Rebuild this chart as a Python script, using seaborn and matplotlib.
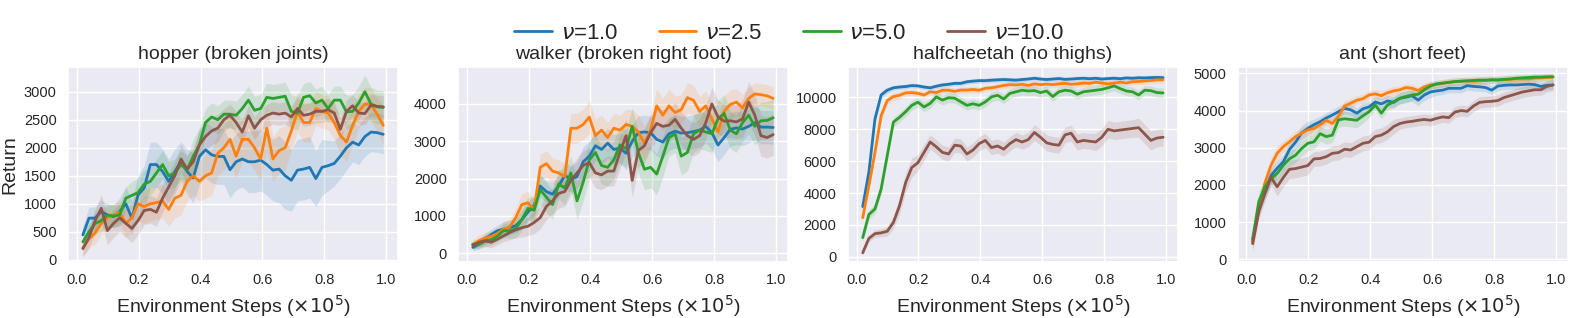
import numpy as np
import pandas as pd
import matplotlib
matplotlib.use("Agg")
import matplotlib.pyplot as plt
from matplotlib.ticker import MultipleLocator
import seaborn as sns

# environment steps (x1e5), 50 evaluation points
steps = np.linspace(0.02, 0.99, 50)

nus = ["1.0", "2.5", "5.0", "10.0"]
colors = ["#1f77b4", "#ff7f0e", "#2ca02c", "#8c564b"]
titles = ["hopper (broken joints)", "walker (broken right foot)", "halfcheetah (no thighs)", "ant (short feet)"]

# ---------------- hopper ----------------
hopper_nu1 = [446, 744, 744, 863, 800, 770, 863, 1000, 744, 1160, 1280, 1700, 1700, 1577, 1400, 1577, 1755,
              1577, 1460, 1845, 1964, 1874, 1845, 1845, 1607, 1750, 1800, 1750, 1750, 1780, 1700, 1600, 1620,
              1500, 1420, 1600, 1620, 1650, 1450, 1650, 1680, 1720, 1850, 2000, 2100, 2050, 2200, 2280, 2270, 2240]
hopper_nu1_sd = [150, 200, 200, 200, 200, 200, 250, 300, 300, 350, 400, 400, 400, 400, 400, 400, 350, 400,
                 450, 500, 500, 500, 500, 500, 500, 500, 500, 550, 550, 550, 550, 550, 600, 600, 550, 550,
                 550, 550, 500, 500, 450, 400, 400, 400, 350, 350, 350, 350, 350, 350]
hopper_nu2 = [210, 380, 480, 650, 750, 800, 850, 650, 750, 1000, 950, 1000, 1020, 1050, 900, 1100, 1150, 1400,
              1500, 1400, 1500, 1550, 1900, 2000, 2150, 1850, 2150, 2150, 2000, 1800, 2350, 1800, 1950, 2000,
              2300, 2650, 2450, 2450, 2700, 2650, 2620, 2450, 2220, 2100, 2400, 2650, 2780, 2770, 2600, 2400]
hopper_nu2_sd = [150, 150, 200, 200, 200, 200, 200, 250, 250, 300, 300, 300, 300, 300, 300, 350, 350, 350,
                 350, 350, 400, 400, 400, 400, 400, 400, 400, 400, 400, 400, 400, 400, 400, 400, 350, 350,
                 350, 350, 300, 300, 300, 300, 350, 350, 350, 300, 300, 300, 300, 350]
hopper_nu5 = [320, 500, 650, 700, 800, 780, 800, 1100, 1150, 1200, 1350, 1400, 1550, 1700, 1500, 1550, 1700,
              1600, 1850, 2050, 2450, 2550, 2500, 2600, 2600, 2580, 2700, 2850, 2670, 2700, 2900, 2880, 2900,
              2920, 2650, 2620, 2900, 2930, 2800, 2850, 2700, 2850, 2850, 2640, 2650, 2800, 3000, 2780, 2730, 2720]
hopper_nu5_sd = [150, 150, 200, 200, 200, 200, 200, 200, 250, 250, 250, 250, 250, 250, 250, 250, 250, 250,
                 300, 300, 250, 250, 250, 250, 250, 250, 250, 250, 250, 250, 250, 250, 250, 250, 300, 300,
                 250, 250, 250, 250, 250, 250, 250, 300, 300, 300, 300, 300, 300, 300]
hopper_nu10 = [200, 400, 700, 920, 520, 650, 750, 650, 560, 700, 880, 900, 850, 1100, 1300, 1500, 1800, 1620,
               1750, 2050, 2200, 2300, 2350, 2500, 2580, 2450, 2280, 2570, 2350, 2500, 2580, 2620, 2600, 2620,
               2550, 2700, 2580, 2600, 2650, 2650, 2680, 2620, 2330, 2650, 2750, 2620, 2610, 2760, 2740, 2730]
hopper_nu10_sd = [150, 200, 200, 250, 250, 250, 250, 250, 250, 250, 250, 250, 250, 250, 250, 250, 250, 250,
                  250, 250, 250, 250, 250, 200, 200, 200, 200, 200, 200, 200, 200, 200, 200, 200, 200, 200,
                  200, 200, 200, 200, 200, 200, 200, 200, 200, 200, 200, 200, 200, 200]

# ---------------- walker ----------------
walker_nu1 = [150, 240, 380, 500, 600, 640, 690, 730, 900, 1100, 1280, 1800, 1650, 1580, 1800, 2080, 1980, 2050,
              2450, 2600, 2880, 2780, 2950, 2780, 2820, 2680, 3000, 3230, 3250, 3230, 3050, 2980, 3200, 3270,
              3220, 3230, 3260, 3300, 3400, 3230, 2900, 3100, 3320, 3360, 3330, 3400, 3500, 3380, 3380, 3370]
walker_nu1_sd = [100, 120, 150, 150, 150, 200, 200, 200, 250, 250, 300, 300, 300, 300, 300, 350, 350, 400,
                 400, 400, 400, 400, 400, 400, 400, 450, 450, 450, 450, 450, 450, 450, 450, 450, 450, 450,
                 450, 450, 450, 450, 450, 450, 450, 450, 450, 450, 450, 450, 450, 450]
walker_nu2 = [230, 330, 400, 450, 520, 640, 700, 950, 1300, 1350, 1150, 2300, 2400, 2200, 2150, 2050, 3350, 3350,
              3450, 3650, 3150, 3300, 3100, 3350, 3300, 3450, 3400, 3250, 2950, 3300, 3950, 3700, 3950, 3770,
              3850, 4170, 4100, 3800, 3950, 3600, 3250, 3800, 3990, 4050, 3900, 4150, 4270, 4250, 4220, 4150]
walker_nu2_sd = [120, 150, 150, 150, 150, 200, 200, 250, 300, 300, 300, 350, 350, 350, 350, 350, 400, 400,
                 400, 450, 450, 400, 400, 400, 400, 400, 450, 450, 450, 450, 450, 450, 450, 450, 400, 400,
                 400, 400, 400, 400, 400, 400, 400, 350, 350, 300, 300, 300, 300, 300]
walker_nu5 = [240, 230, 320, 360, 450, 600, 600, 650, 900, 1200, 1150, 1700, 1500, 1300, 1850, 1750, 2150, 1400,
              1900, 2500, 2700, 2350, 2300, 2500, 2900, 2800, 3400, 2700, 2250, 2300, 2120, 2600, 3100, 3200,
              2600, 2700, 3200, 3300, 3250, 3200, 3600, 3750, 3300, 3200, 3500, 3700, 3400, 3550, 3560, 3630]
walker_nu5_sd = [100, 120, 150, 150, 150, 200, 200, 250, 300, 300, 350, 400, 400, 400, 400, 450, 450, 500,
                 500, 500, 500, 500, 500, 500, 500, 500, 500, 550, 550, 550, 550, 550, 500, 500, 500, 500,
                 500, 500, 500, 500, 500, 500, 500, 500, 500, 500, 500, 500, 500, 500]
walker_nu10 = [200, 290, 330, 290, 370, 460, 550, 620, 680, 720, 820, 950, 1250, 1400, 1600, 1650, 1950, 2150,
               2350, 2430, 2150, 2100, 2200, 2200, 2700, 3150, 1950, 2750, 2880, 3230, 3480, 3400, 3430, 3590,
               3350, 3150, 3050, 3150, 3500, 4000, 3650, 3540, 3550, 3520, 3600, 4050, 3700, 3150, 3100, 3180]
walker_nu10_sd = [100, 120, 150, 150, 150, 150, 200, 200, 250, 250, 300, 300, 350, 350, 400, 400, 400, 400,
                  400, 400, 400, 400, 400, 400, 450, 450, 450, 450, 450, 450, 450, 450, 450, 450, 450, 450,
                  450, 450, 450, 450, 450, 450, 450, 450, 500, 550, 550, 550, 550, 550]

# ---------------- halfcheetah ----------------
cheetah_nu1 = [3150, 5300, 8650, 10150, 10450, 10600, 10650, 10680, 10740, 10720, 10650, 10600, 10700, 10780,
               10820, 10880, 10880, 10980, 11020, 11050, 11050, 11080, 11100, 11120, 11100, 11080, 11120, 11150,
               11200, 11150, 11120, 11150, 11180, 11130, 11150, 11180, 11200, 11170, 11200, 11150, 11180, 11200,
               11170, 11220, 11200, 11230, 11220, 11240, 11250, 11240]
cheetah_nu1_sd = [250, 300, 300, 250, 200, 150, 150, 150, 150, 150, 150, 150, 150, 150, 150, 150, 150, 150,
                  150, 150, 150, 150, 150, 150, 150, 150, 150, 150, 150, 150, 150, 150, 150, 150, 150, 150,
                  150, 150, 150, 150, 150, 150, 150, 150, 150, 150, 150, 150, 150, 150]
cheetah_nu2 = [2450, 4450, 6550, 8850, 9800, 10050, 10130, 10280, 10300, 10250, 10150, 10350, 10300, 10450,
               10450, 10380, 10460, 10460, 10500, 10450, 10570, 10600, 10670, 10750, 10800, 10780, 10820, 10750,
               10850, 10800, 10830, 10800, 10850, 10880, 10820, 10850, 10900, 10880, 10950, 10900, 10850, 10900,
               10950, 10900, 10980, 11000, 11030, 11060, 11100, 11100]
cheetah_nu2_sd = [250, 300, 300, 300, 250, 250, 250, 200, 200, 200, 200, 200, 200, 200, 200, 200, 200, 200,
                  200, 200, 200, 200, 200, 200, 200, 200, 200, 200, 200, 200, 200, 200, 200, 200, 200, 200,
                  200, 200, 200, 200, 200, 200, 200, 200, 200, 200, 200, 200, 200, 200]
cheetah_nu5 = [1200, 2650, 3000, 4250, 6350, 8450, 8750, 9100, 9500, 9700, 9400, 9620, 10030, 9830, 9980, 9950,
               9720, 9500, 9600, 9500, 9720, 10030, 10130, 9900, 10250, 10350, 10450, 10400, 10430, 10300, 10400,
               10050, 10350, 10450, 10400, 10200, 10350, 10400, 10450, 10500, 10600, 10720, 10550, 10400, 10350,
               10150, 10450, 10420, 10300, 10280]
cheetah_nu5_sd = [250, 300, 300, 350, 350, 300, 300, 300, 300, 300, 300, 300, 300, 300, 300, 300, 300, 300,
                  300, 300, 300, 300, 300, 300, 300, 300, 300, 300, 300, 300, 300, 300, 300, 300, 300, 300,
                  300, 300, 300, 300, 300, 300, 300, 300, 300, 300, 300, 300, 300, 300]
cheetah_nu10 = [250, 1150, 1450, 1500, 1600, 2150, 3200, 4650, 5600, 5900, 6550, 7200, 6900, 6550, 6450, 7000,
                6950, 6450, 6700, 7100, 7300, 6850, 6950, 6750, 7100, 7350, 7200, 7350, 7800, 7500, 7150, 7050,
                7000, 7650, 7750, 7200, 7300, 7250, 7200, 7500, 8000, 7900, 7950, 8000, 8050, 8100, 7700, 7300,
                7450, 7500]
cheetah_nu10_sd = [150, 200, 250, 250, 300, 400, 500, 600, 600, 500, 500, 450, 450, 450, 450, 450, 450, 450,
                   450, 450, 450, 450, 450, 450, 450, 450, 450, 450, 500, 500, 500, 500, 500, 500, 500, 500,
                   500, 500, 550, 550, 550, 550, 550, 550, 550, 600, 600, 600, 550, 550]

# ---------------- ant ----------------
ant_nu1 = [500, 1350, 1800, 2250, 2450, 2620, 2950, 3150, 3400, 3520, 3620, 3700, 3800, 3880, 3970, 4060, 4020,
           3930, 4050, 4100, 4230, 4180, 4260, 4220, 4330, 4360, 4400, 4280, 4420, 4500, 4530, 4550, 4600, 4600,
           4600, 4670, 4650, 4640, 4620, 4550, 4660, 4680, 4690, 4690, 4700, 4710, 4700, 4650, 4680, 4690]
ant_nu1_sd = [200, 200, 200, 200, 200, 200, 200, 200, 200, 200, 150, 150, 150, 150, 150, 150, 150, 150,
              150, 150, 150, 150, 150, 150, 150, 150, 150, 150, 150, 150, 120, 120, 120, 120, 120, 120,
              120, 120, 120, 120, 120, 120, 120, 120, 120, 120, 120, 120, 120, 120]
ant_nu2 = [450, 1350, 2050, 2530, 2850, 3030, 3160, 3300, 3390, 3480, 3520, 3620, 3740, 3650, 3850, 4120, 4200,
           4280, 4320, 4420, 4450, 4400, 4480, 4530, 4560, 4620, 4600, 4540, 4640, 4690, 4700, 4730, 4760, 4780,
           4790, 4800, 4790, 4800, 4810, 4820, 4810, 4830, 4840, 4850, 4850, 4850, 4870, 4880, 4890, 4900]
ant_nu2_sd = [200, 200, 200, 200, 200, 150, 150, 150, 150, 150, 150, 150, 150, 150, 150, 150, 120, 120,
              120, 120, 120, 120, 120, 120, 100, 100, 100, 100, 100, 100, 100, 100, 100, 100, 100, 100,
              100, 100, 100, 100, 100, 100, 100, 100, 100, 100, 100, 100, 100, 100]
ant_nu5 = [550, 1550, 1950, 2170, 2310, 2530, 2700, 2800, 2980, 3120, 3160, 3380, 3300, 3340, 3750, 3780, 3760,
           3740, 3860, 3970, 4150, 3930, 4150, 4240, 4330, 4380, 4420, 4440, 4560, 4660, 4720, 4740, 4760, 4780,
           4790, 4800, 4810, 4820, 4820, 4830, 4830, 4840, 4850, 4870, 4880, 4890, 4900, 4900, 4910, 4910]
ant_nu5_sd = [200, 250, 250, 200, 200, 200, 200, 200, 200, 200, 200, 200, 200, 200, 200, 200, 200, 200,
              200, 150, 150, 150, 150, 150, 150, 150, 150, 120, 120, 120, 100, 100, 100, 100, 100, 100,
              100, 100, 100, 100, 100, 100, 100, 100, 100, 100, 100, 100, 100, 100]
ant_nu10 = [420, 1280, 1770, 2200, 1950, 2200, 2420, 2440, 2480, 2520, 2700, 2710, 2760, 2850, 2870, 2960, 2940,
            3030, 3120, 3150, 3300, 3340, 3430, 3570, 3650, 3690, 3710, 3740, 3760, 3740, 3790, 3830, 3810, 3960,
            4000, 3980, 4120, 4220, 4240, 4250, 4270, 4350, 4400, 4450, 4500, 4530, 4560, 4560, 4650, 4690]
ant_nu10_sd = [200, 200, 200, 200, 250, 250, 250, 250, 250, 250, 200, 200, 200, 200, 200, 200, 200, 200,
               200, 200, 200, 200, 200, 200, 150, 150, 150, 150, 150, 150, 150, 150, 150, 150, 150, 150,
               150, 150, 150, 150, 150, 150, 150, 150, 150, 150, 150, 150, 150, 150]

means = [[hopper_nu1, hopper_nu2, hopper_nu5, hopper_nu10],
         [walker_nu1, walker_nu2, walker_nu5, walker_nu10],
         [cheetah_nu1, cheetah_nu2, cheetah_nu5, cheetah_nu10],
         [ant_nu1, ant_nu2, ant_nu5, ant_nu10]]
sds = [[hopper_nu1_sd, hopper_nu2_sd, hopper_nu5_sd, hopper_nu10_sd],
       [walker_nu1_sd, walker_nu2_sd, walker_nu5_sd, walker_nu10_sd],
       [cheetah_nu1_sd, cheetah_nu2_sd, cheetah_nu5_sd, cheetah_nu10_sd],
       [ant_nu1_sd, ant_nu2_sd, ant_nu5_sd, ant_nu10_sd]]
ylims = [(-40, 3440), (-240, 4990), (-330, 11900), (-75, 5170)]
ysteps = [500, 1000, 2000, 1000]

sns.set_theme(style="darkgrid")
plt.rcParams["font.family"] = ["Liberation Sans", "DejaVu Sans"]

fig, axs = plt.subplots(1, 4, figsize=(15.78, 3.18), dpi=100)
fig.subplots_adjust(left=0.043, right=0.9937, top=0.789, bottom=0.176, wspace=0.18)

for i, ax in enumerate(axs):
    rows = []
    for j, nu in enumerate(nus):
        for s, m in zip(steps, means[i][j]):
            rows.append({"steps": s, "ret": m, "nu": r"$\nu$=" + nu})
    df = pd.DataFrame(rows)
    for j, nu in enumerate(nus):
        m = np.array(means[i][j], dtype=float)
        sd = np.array(sds[i][j], dtype=float)
        ax.fill_between(steps, m - sd, m + sd, color=colors[j], alpha=0.15, linewidth=0)
    sns.lineplot(data=df, x="steps", y="ret", hue="nu", palette=colors, linewidth=2, ax=ax, legend=(i == 0))
    ax.set_title(titles[i], fontsize=14)
    ax.set_xlabel(r"Environment Steps ($\times 10^5$)", fontsize=14)
    ax.set_ylabel("Return" if i == 0 else "", fontsize=14)
    ax.set_xticks([0.0, 0.2, 0.4, 0.6, 0.8, 1.0])
    ax.yaxis.set_major_locator(MultipleLocator(ysteps[i]))
    ax.set_ylim(*ylims[i])
    ax.tick_params(labelsize=10.5, pad=2)

handles, labels = axs[0].get_legend_handles_labels()
axs[0].get_legend().remove()
fig.legend(handles, labels, loc="upper center", bbox_to_anchor=(0.5, 0.99), ncol=4, frameon=False,
           fontsize=16, columnspacing=1.8, handlelength=1.7, handletextpad=0.4)

fig.savefig("out.png", dpi=100)
